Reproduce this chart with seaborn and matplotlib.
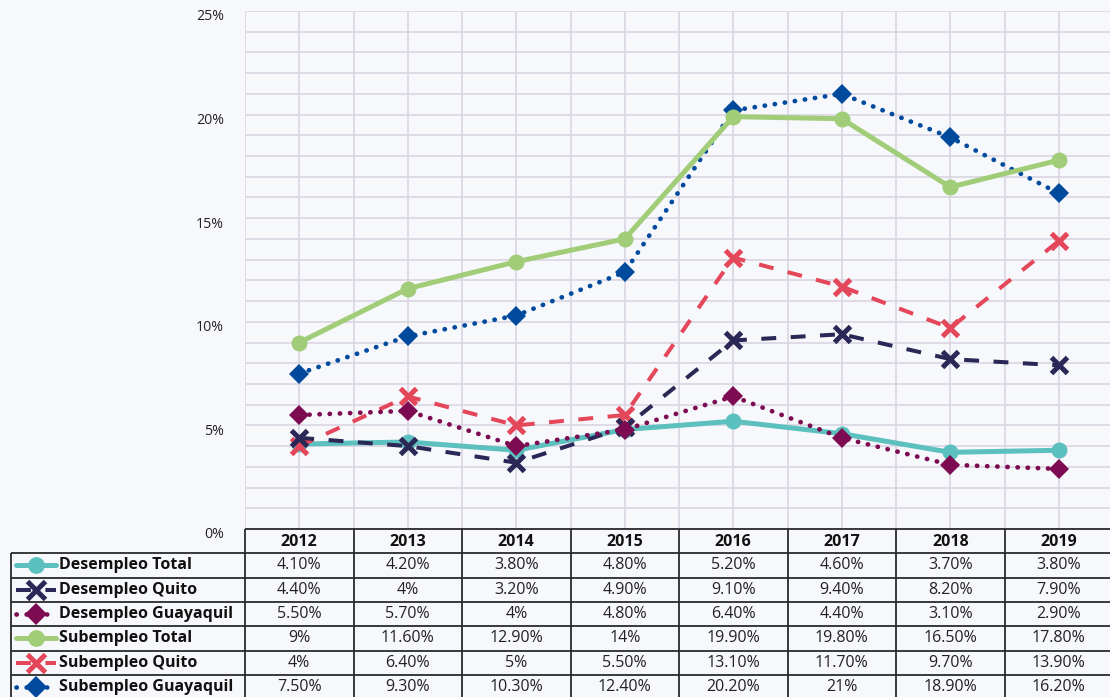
import numpy as np
import pandas as pd
import matplotlib.pyplot as plt
import matplotlib.transforms as mtransforms
import seaborn as sns
from matplotlib.lines import Line2D
from matplotlib.ticker import MultipleLocator, FuncFormatter

years = [2012, 2013, 2014, 2015, 2016, 2017, 2018, 2019]
series_names = ['Desempleo Total', 'Desempleo Quito', 'Desempleo Guayaquil',
                'Subempleo Total', 'Subempleo Quito', 'Subempleo Guayaquil']
desempleo_total = [4.1, 4.2, 3.8, 4.8, 5.2, 4.6, 3.7, 3.8]
desempleo_quito = [4.4, 4, 3.2, 4.9, 9.1, 9.4, 8.2, 7.9]
desempleo_guayaquil = [5.5, 5.7, 4, 4.8, 6.4, 4.4, 3.1, 2.9]
subempleo_total = [9, 11.6, 12.9, 14, 19.9, 19.8, 16.5, 17.8]
subempleo_quito = [4, 6.4, 5, 5.5, 13.1, 11.7, 9.7, 13.9]
subempleo_guayaquil = [7.5, 9.3, 10.3, 12.4, 20.2, 21, 18.9, 16.2]
values = [desempleo_total, desempleo_quito, desempleo_guayaquil,
          subempleo_total, subempleo_quito, subempleo_guayaquil]

colors = ['#5bc0be', '#2b2857', '#7d0b52', '#a1cd78', '#e5475a', '#004a9e']
dotted = (0, (0.05, 2.1))
dashed = (0, (3.7, 3.6))
styles = [
    dict(linestyle='-', lw=3.6, marker='o', ms=11.5, mew=0, zorder=3, cap='butt'),
    dict(linestyle=dashed, lw=2.9, marker='x', ms=12, mew=3.6, zorder=4, cap='butt'),
    dict(linestyle=dotted, lw=3.4, marker='D', ms=10.5, mew=0, zorder=4, cap='round'),
    dict(linestyle='-', lw=3.6, marker='o', ms=11.5, mew=0, zorder=5, cap='butt'),
    dict(linestyle=dashed, lw=2.9, marker='x', ms=12, mew=3.6, zorder=3, cap='butt'),
    dict(linestyle=dotted, lw=3.4, marker='D', ms=10.5, mew=0, zorder=3, cap='round'),
]

sns.set_theme(style="white")
plt.rcParams['font.family'] = ['Open Sans', 'DejaVu Sans']

bg = '#f7f8fb'
grid_c = '#d9d6e2'
W, H = 1110, 697
left_px, right_px, top_px, bottom_px = 245, 1113, 11, 529
label_x0 = 11
row_h = 24.3

fig = plt.figure(figsize=(W / 100, H / 100), dpi=100, facecolor=bg)
ax = fig.add_axes([left_px / W, 1 - bottom_px / H, (right_px - left_px) / W, (bottom_px - top_px) / H])
ax.set_facecolor(bg)

x = np.arange(len(years))
for vals, c, st in zip(values, colors, styles):
    sns.lineplot(x=x, y=vals, ax=ax, color=c, linestyle=st['linestyle'], linewidth=st['lw'],
                 marker=st['marker'], markersize=st['ms'], markeredgewidth=st['mew'],
                 markeredgecolor=c, markerfacecolor=c, zorder=st['zorder'],
                 dash_capstyle=st['cap'])

ax.set_xlim(-0.5, len(years) - 0.5)
ax.set_ylim(0, 25)
ax.yaxis.set_major_locator(MultipleLocator(5))
ax.yaxis.set_minor_locator(MultipleLocator(1))
ax.yaxis.set_major_formatter(FuncFormatter(lambda v, p: f'{v:.0f}%'))
ax.set_xticks(np.arange(-0.5, len(years), 0.5))
ax.set_xticklabels([])
ax.grid(True, which='both', color=grid_c, linewidth=1.2, zorder=0)
ax.set_axisbelow(True)
ax.tick_params(axis='both', which='both', length=0)
ax.tick_params(axis='y', labelsize=10.2, pad=15, colors='#222222')
shift = mtransforms.ScaledTranslation(0, -4 / 100, fig.dpi_scale_trans)
for lbl in ax.get_yticklabels():
    lbl.set_transform(lbl.get_transform() + shift)
for s in ax.spines.values():
    s.set_visible(False)

# data table drawn in pixel coordinates of the figure
tab = fig.add_axes([0, 0, 1, 1], facecolor='none')
tab.set_xlim(0, W)
tab.set_ylim(H, 0)
tab.axis('off')

col_w = (right_px - left_px) / len(years)
col_edges = [left_px + i * col_w for i in range(len(years) + 1)]
row_edges = [bottom_px + i * row_h for i in range(len(series_names) + 2)]
line_kw = dict(color='#2a2a2a', lw=1.3, solid_capstyle='butt')

tab.plot([left_px, right_px], [row_edges[0]] * 2, **line_kw)
for yy in row_edges[1:]:
    tab.plot([label_x0, right_px], [yy, yy], **line_kw)
tab.plot([label_x0, label_x0], [row_edges[1], row_edges[-1]], **line_kw)
for xx in col_edges:
    tab.plot([xx, xx], [row_edges[0], row_edges[-1]], **line_kw)

for i, yr in enumerate(years):
    cx = col_edges[i] + col_w / 2
    tab.text(cx, (row_edges[0] + row_edges[1]) / 2 + 1, str(yr), ha='center', va='center',
             fontsize=11.5, fontweight='bold', color='#111111')


def fmt(v):
    return f'{v:.0f}%' if float(v).is_integer() else f'{v:.2f}%'


for r, (name, vals, c, st) in enumerate(zip(series_names, values, colors, styles)):
    cy = (row_edges[r + 1] + row_edges[r + 2]) / 2
    for i, v in enumerate(vals):
        cx = col_edges[i] + col_w / 2
        tab.text(cx, cy, fmt(v), ha='center', va='center', fontsize=11.5, color='#222222')
    tab.add_line(Line2D([16, 56], [cy, cy], color=c, linestyle=st['linestyle'], linewidth=st['lw'],
                        dash_capstyle=st['cap']))
    tab.add_line(Line2D([36], [cy], color=c, marker=st['marker'], markersize=st['ms'] * 1.05,
                        markeredgewidth=st['mew'], markeredgecolor=c, markerfacecolor=c, linestyle='none'))
    tab.text(59, cy, name, ha='left', va='center', fontsize=11.5, fontweight='bold', color='#111111')

fig.savefig('out.png', dpi=100, facecolor=bg)
plt.close()
